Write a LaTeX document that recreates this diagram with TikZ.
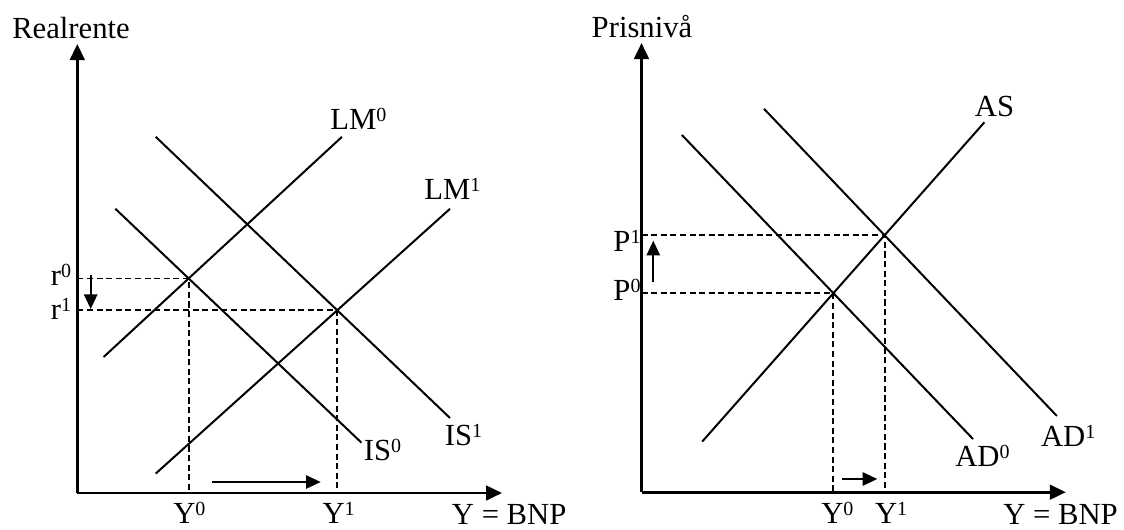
\documentclass[tikz,border=0pt]{standalone}
\usepackage{fontspec}
\setmainfont{Liberation Serif}
\usetikzlibrary{arrows.meta,calc}
\newcommand{\supx}[1]{\raisebox{5.8pt}{\fontsize{15}{15}\selectfont #1}}

\begin{document}
\begin{tikzpicture}[x=0.75pt,y=-0.75pt,
  axis/.style={line width=2pt, -{Triangle[length=12pt,width=11pt]}},
  curve/.style={line width=1.5pt},
  guide/.style={line width=1.4pt, dash pattern=on 4.6pt off 2.6pt},
  movearr/.style={line width=1.3pt, -{Triangle[length=11pt,width=10pt]}},
  lbl/.style={font=\fontsize{23}{26}\selectfont, inner sep=0pt}
]
  \useasboundingbox (0,0) rectangle (1124,529);

  % IS-LM diagram
  \coordinate (o1) at (77.3,493);
  \coordinate (ytop1) at (77.3,44);
  \coordinate (xend1) at (502,493);
  \coordinate (lm0a) at (103.6,357);   \coordinate (lm0b) at (342,136.8);
  \coordinate (lm1a) at (155.7,473.6); \coordinate (lm1b) at (450,208.8);
  \coordinate (is0a) at (115.4,208.8); \coordinate (is0b) at (361.4,442.6);
  \coordinate (is1a) at (155.7,136.8); \coordinate (is1b) at (450,418);
  \coordinate (e0) at (intersection of lm0a--lm0b and is0a--is0b);
  \coordinate (e1) at (intersection of lm1a--lm1b and is1a--is1b);

  \draw[axis] (o1) -- (ytop1);
  \draw[axis] (o1) -- (xend1);
  \draw[curve] (lm0a) -- (lm0b);
  \draw[curve] (lm1a) -- (lm1b);
  \draw[curve] (is0a) -- (is0b);
  \draw[curve] (is1a) -- (is1b);
  \draw[guide] (o1 |- e0) -- (e0) -- (e0 |- o1);
  \draw[guide] (o1 |- e1) -- (e1) -- (e1 |- o1);

  \coordinate (rfrom) at (90.7,275);  \coordinate (rto) at (90.7,309);
  \coordinate (yfrom1) at (211.7,482); \coordinate (yto1) at (320.7,482);
  \draw[movearr] (rfrom) -- (rto);
  \draw[movearr] (yfrom1) -- (yto1);

  \node[lbl,anchor=base] (realr) at (71,38) {Realrente};
  \node[lbl,anchor=base west] (lm0) at (330,129) {LM\supx{0}};
  \node[lbl,anchor=base west] (lm1) at (424,199) {LM\supx{1}};
  \node[lbl,anchor=base west] (is0) at (363.6,460) {IS\supx{0}};
  \node[lbl,anchor=base west] (is1) at (444.6,445) {IS\supx{1}};
  \node[lbl,anchor=base east] (r0) at (71.4,285.5) {r\supx{0}};
  \node[lbl,anchor=base east] (r1) at (71.4,319) {r\supx{1}};
  \node[lbl,anchor=base] (y0a) at ($(e0 |- o1)+(0.7,30)$) {Y\supx{0}};
  \node[lbl,anchor=base] (y1a) at ($(e1 |- o1)+(1.3,30)$) {Y\supx{1}};
  \node[lbl,anchor=base west] (bnp1) at (451.7,524) {Y = BNP};

  % AS-AD diagram
  \coordinate (o2) at (641.5,492.2);
  \coordinate (ytop2) at (641.5,43);
  \coordinate (xend2) at (1065.8,492.2);
  \coordinate (asa) at (702.2,441.6);  \coordinate (asb) at (984.4,122.3);
  \coordinate (ad0a) at (681.9,135);   \coordinate (ad0b) at (973,439);
  \coordinate (ad1a) at (764,108.8);   \coordinate (ad1b) at (1056.9,416);
  \coordinate (f0) at (intersection of asa--asb and ad0a--ad0b);
  \coordinate (f1) at (intersection of asa--asb and ad1a--ad1b);

  \draw[axis] (o2) -- (ytop2);
  \draw[axis] (o2) -- (xend2);
  \draw[curve] (asa) -- (asb);
  \draw[curve] (ad0a) -- (ad0b);
  \draw[curve] (ad1a) -- (ad1b);
  \draw[guide] (o2 |- f0) -- (f0) -- (f0 |- o2);
  \draw[guide] (o2 |- f1) -- (f1) -- (f1 |- o2);

  \coordinate (pfrom) at (653.3,281.7); \coordinate (pto) at (653.3,240.7);
  \coordinate (yfrom2) at (841.7,479);  \coordinate (yto2) at (877.3,479);
  \draw[movearr] (pfrom) -- (pto);
  \draw[movearr] (yfrom2) -- (yto2);

  \node[lbl,anchor=base] (prisn) at (642,37) {Prisnivå};
  \node[lbl,anchor=base west] (as) at (974.7,116.5) {AS};
  \node[lbl,anchor=base west] (ad0) at (955,466) {AD\supx{0}};
  \node[lbl,anchor=base west] (ad1) at (1040.8,446) {AD\supx{1}};
  \node[lbl,anchor=base east] (p1) at (640.8,251.7) {P\supx{1}};
  \node[lbl,anchor=base east] (p0) at (640.8,300.7) {P\supx{0}};
  \node[lbl,anchor=base] (y0b) at ($(f0 |- o2)+(4,30.8)$) {Y\supx{0}};
  \node[lbl,anchor=base] (y1b) at ($(f1 |- o2)+(6.5,30.8)$) {Y\supx{1}};
  \node[lbl,anchor=base west] (bnp2) at (1003,524) {Y = BNP};
\end{tikzpicture}
\end{document}
